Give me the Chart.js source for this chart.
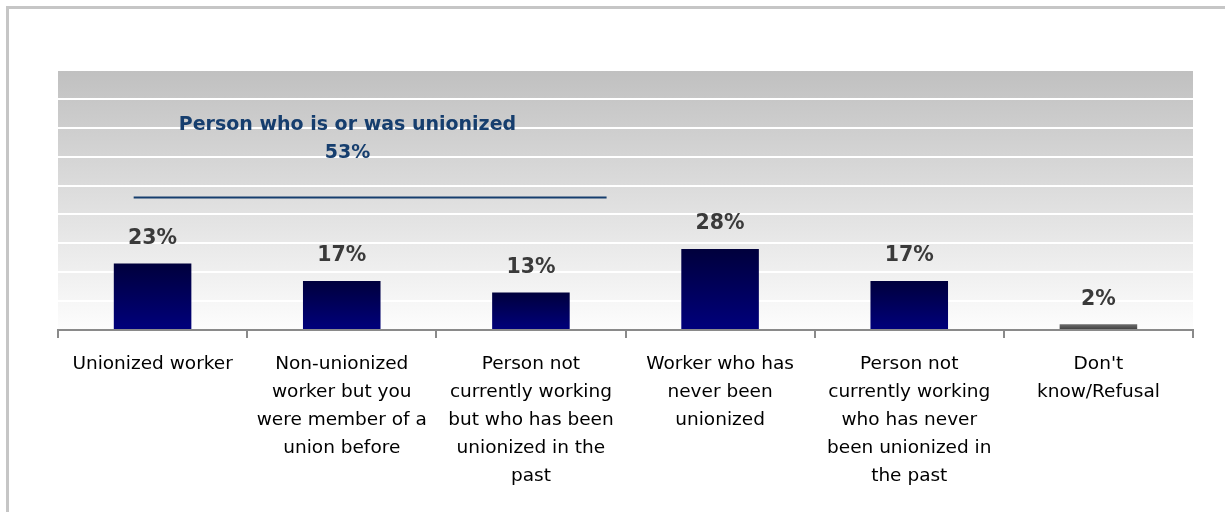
<!DOCTYPE html>
<html>
<head>
<meta charset="utf-8">
<script src="https://cdn.jsdelivr.net/npm/chart.js@4"></script>
<style>
	html, body { margin: 0; padding: 0; background: #ffffff; }
	#wrap { width: 1225px; height: 512px; position: relative; }
</style>
</head>
<body>
<div id="wrap"><canvas id="chart" width="1225" height="512"></canvas></div>
<script>

//
// data
//

const categories = [
	['Unionized worker'],
	['Non-unionized', 'worker but you', 'were member of a', 'union before'],
	['Person not', 'currently working', 'but who has been', 'unionized in the', 'past'],
	['Worker who has', 'never been', 'unionized'],
	['Person not', 'currently working', 'who has never', 'been unionized in', 'the past'],
	['Don\'t', 'know/Refusal']
];
const values = [23, 17, 13, 28, 17, 2];
const grayBars = [false, false, false, false, false, true];

const groupLines = ['Person who is or was unionized', '53%'];
const groupFrom = -0.1;
const groupTo = 2.4;

//
// drawing helpers
//

function barGradient(context) {
	let chart = context.chart;
	if (!chart.chartArea) {
		return '#000060';
	}
	let i = context.dataIndex;
	let y = chart.scales.y;
	let top = y.getPixelForValue(values[i]);
	let bottom = y.getPixelForValue(0);
	let g = chart.ctx.createLinearGradient(0, top, 0, bottom);
	if (grayBars[i]) {
		g.addColorStop(0, '#6e6e6e');
		g.addColorStop(1, '#3a3a3a');
	} else {
		g.addColorStop(0, '#00003c');
		g.addColorStop(1, '#00007c');
	}
	return g;
}

const backdrop = {
	id: 'backdrop',
	beforeDraw: function(chart) {
		let ctx = chart.ctx;
		let a = chart.chartArea;
		ctx.save();
		ctx.fillStyle = '#ffffff';
		ctx.fillRect(0, 0, chart.width, chart.height);

		// frame
		//
		ctx.strokeStyle = '#c6c6c6';
		ctx.lineWidth = 3;
		ctx.beginPath();
		ctx.moveTo(7.5, chart.height + 5);
		ctx.lineTo(7.5, 7.5);
		ctx.lineTo(chart.width + 5, 7.5);
		ctx.stroke();

		// plot background
		//
		let g = ctx.createLinearGradient(0, a.top, 0, a.bottom);
		g.addColorStop(0, '#c0c0c0');
		g.addColorStop(1, '#fdfdfd');
		ctx.fillStyle = g;
		ctx.fillRect(a.left, a.top, a.right - a.left, a.bottom - a.top);
		ctx.restore();
	}
};

const labels = {
	id: 'labels',
	afterDatasetsDraw: function(chart) {
		let ctx = chart.ctx;
		let meta = chart.getDatasetMeta(0);
		ctx.save();
		ctx.font = 'bold 20.5px "DejaVu Sans"';
		ctx.fillStyle = '#3a3a3a';
		ctx.textAlign = 'center';
		ctx.textBaseline = 'middle';
		meta.data.forEach(function(bar, i) {
			ctx.fillText(values[i] + '%', bar.x, bar.y - 25);
		});

		// group annotation
		//
		let x = chart.scales.x;
		let y = chart.scales.y;
		let x1 = x.getPixelForValue(groupFrom);
		let x2 = x.getPixelForValue(groupTo);
		let yLine = Math.round(y.getPixelForValue(46)) + 0.5;
		ctx.strokeStyle = '#163e6e';
		ctx.lineWidth = 2;
		ctx.beginPath();
		ctx.moveTo(x1, yLine);
		ctx.lineTo(x2, yLine);
		ctx.stroke();

		let cx = x.getPixelForValue(1.03);
		ctx.fillStyle = '#163e6e';
		ctx.font = 'bold 19px "DejaVu Sans"';
		ctx.fillText(groupLines[0], cx, y.getPixelForValue(71));
		ctx.fillText(groupLines[1], cx, y.getPixelForValue(61.3));
		ctx.restore();
	}
};

//
// chart
//

new Chart(document.getElementById('chart').getContext('2d'), {
	type: 'bar',
	data: {
		labels: categories,
		datasets: [{
			data: values,
			backgroundColor: barGradient,
			borderWidth: 0,
			categoryPercentage: 1,
			barPercentage: 0.41
		}]
	},
	options: {
		responsive: false,
		animation: false,
		layout: {
			padding: { left: 58, right: 32, top: 70, bottom: 0 }
		},
		plugins: {
			legend: { display: false },
			tooltip: { enabled: false },
			title: { display: false }
		},
		scales: {
			x: {
				grid: {
					offset: true,
					drawOnChartArea: false,
					drawTicks: true,
					tickLength: 8,
					color: '#8a8a8a',
					lineWidth: 2
				},
				border: { display: true, color: '#8a8a8a', width: 2 },
				ticks: {
					autoSkip: false,
					maxRotation: 0,
					minRotation: 0,
					padding: 12,
					color: '#000000',
					font: { family: '"DejaVu Sans"', size: 18.5, lineHeight: 1.52 }
				},
				afterFit: function(scale) {
					scale.height = 182;
				}
			},
			y: {
				min: 0,
				max: 90,
				ticks: { display: false, stepSize: 10 },
				grid: {
					color: '#ffffff',
					lineWidth: 2,
					drawTicks: false
				},
				border: { display: false },
				afterFit: function(scale) {
					scale.width = 0;
				}
			}
		}
	},
	plugins: [backdrop, labels]
});
</script>
</body>
</html>
